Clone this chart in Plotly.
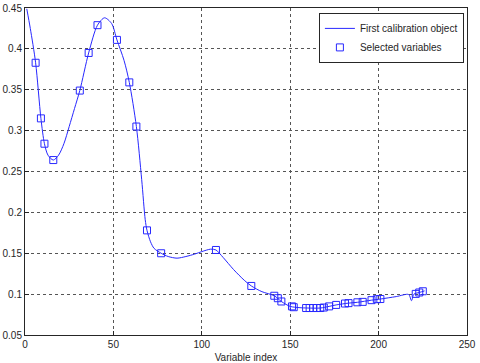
import plotly.graph_objects as go

# spectrum of the first calibration object
curve_x = [1, 3, 6, 9, 11, 13, 16, 19, 22, 25, 28, 31, 36, 41, 45, 49, 52, 56, 59,
           63, 66, 68, 69, 71, 73, 77, 81, 86, 91, 96, 100, 105, 108, 112, 118, 124,
           128, 134, 141, 145, 150, 155, 160, 167, 172, 176, 183, 188, 196, 201, 210,
           217, 218.6, 220, 223, 226]
curve_y = [0.449, 0.425, 0.383, 0.315, 0.284, 0.270, 0.264, 0.270, 0.284, 0.305,
           0.327, 0.349, 0.395, 0.429, 0.438, 0.431, 0.411, 0.386, 0.359, 0.305,
           0.240, 0.191, 0.178, 0.164, 0.156, 0.150, 0.146, 0.144, 0.146, 0.149,
           0.152, 0.155, 0.154, 0.145, 0.130, 0.117, 0.110, 0.103, 0.098, 0.091,
           0.085, 0.0835, 0.083, 0.083, 0.085, 0.0868, 0.089, 0.090, 0.0926, 0.094,
           0.097, 0.0995, 0.092, 0.100, 0.102, 0.104]

# selected variables
sel_x = [6, 9, 11, 16, 31, 36, 41, 52, 59, 63, 69, 77, 108, 128, 141, 143, 145,
         151, 152, 159, 161, 163, 165, 167, 169, 172, 176, 181, 183, 188, 191,
         196, 199, 201, 221, 223, 225]
sel_y = [0.383, 0.315, 0.284, 0.264, 0.349, 0.395, 0.429, 0.411, 0.359, 0.305,
         0.178, 0.150, 0.154, 0.110, 0.098, 0.095, 0.091, 0.085, 0.084, 0.083,
         0.083, 0.083, 0.083, 0.083, 0.0836, 0.085, 0.0868, 0.0885, 0.089, 0.090,
         0.0905, 0.0926, 0.0938, 0.094, 0.1003, 0.102, 0.1035]

fig = go.Figure()
fig.add_trace(go.Scatter(
    x=curve_x, y=curve_y, mode='lines', name='First calibration object',
    line=dict(color='rgb(40,40,255)', width=1, shape='spline', smoothing=0.8)
))
fig.add_trace(go.Scatter(
    x=sel_x, y=sel_y, mode='markers', name='Selected variables',
    marker=dict(symbol='square-open', size=7, color='rgb(40,40,255)',
                line=dict(width=1))
))

axis_style = dict(
    showline=True, mirror=True, linecolor='#262626', linewidth=1,
    ticks='inside', ticklen=4, tickcolor='#262626',
    showgrid=True, gridcolor='#555555', griddash='dot', gridwidth=1,
    zeroline=False, tickfont=dict(size=10, color='#262626'),
    automargin=False,
)

fig.update_xaxes(range=[0, 250], dtick=50, title=dict(text='Variable index',
                 font=dict(size=10, color='#262626'), standoff=4), **axis_style)
fig.update_yaxes(range=[0.05, 0.45], dtick=0.05, tickformat='.2~f', **axis_style)

fig.update_layout(
    width=480, height=363,
    margin=dict(l=25, r=13, t=8, b=28),
    paper_bgcolor='white', plot_bgcolor='white',
    font=dict(family='Liberation Sans, Arial, sans-serif', size=10, color='#262626'),
    legend=dict(x=0.993, y=0.985, xanchor='right', yanchor='top',
                bgcolor='white', bordercolor='#262626', borderwidth=1,
                font=dict(size=10), itemwidth=30, tracegroupgap=0),
    showlegend=True,
)

# drop the default page margin so the figure sits at the window corner
fig.write_html("out.html", config={'displayModeBar': False},
               post_script="document.body.style.margin='0';")
